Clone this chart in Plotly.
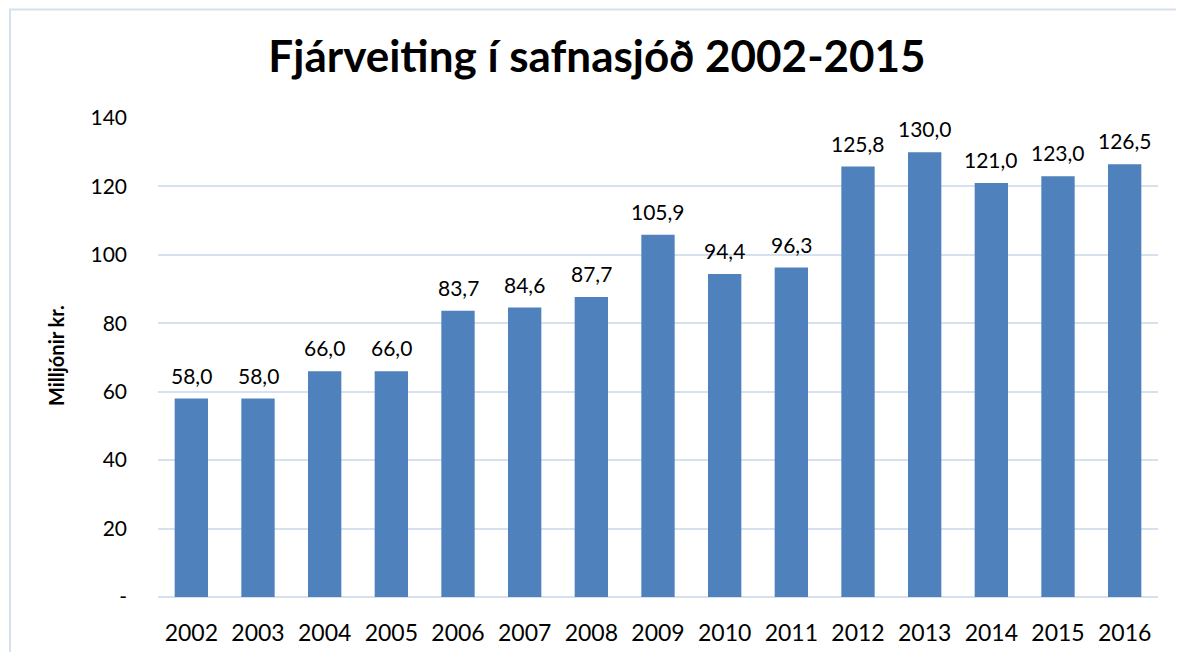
import plotly.graph_objects as go

years = ["2002", "2003", "2004", "2005", "2006", "2007", "2008", "2009",
         "2010", "2011", "2012", "2013", "2014", "2015", "2016"]
values = [58.0, 58.0, 66.0, 66.0, 83.7, 84.6, 87.7, 105.9,
          94.4, 96.3, 125.8, 130.0, 121.0, 123.0, 126.5]
labels = [f"{v:.1f}".replace(".", ",") for v in values]
y_ticks = [0, 20, 40, 60, 80, 100, 120, 140]
y_ticktext = ["-", "20", "40", "60", "80", "100", "120", "140"]

FONT = "Lato, Open Sans, sans-serif"

fig = go.Figure(go.Bar(
    x=years, y=values,
    marker=dict(color="#4f81bd", line=dict(width=0)),
))

# page body has an 8px margin; the figure starts at (8, 8) in the screenshot
OFF = 8
W, H = 1184 - 2 * OFF, 660 - 2 * OFF
L, R, T, B = 158 - OFF, 1184 - OFF - 1158, 118 - OFF, 660 - OFF - 597
pw, ph = W - L - R, H - T - B

def px(x):
    return (x - OFF - L) / pw

def py(y):
    return (H - B - (y - OFF)) / ph

# on a category axis, annotation x is the category index
annotations = [dict(x=i, y=v, text=t, xref="x", yref="y",
                    xanchor="center", yanchor="bottom", yshift=9,
                    showarrow=False,
                    font=dict(size=21, color="#000000", family=FONT))
               for i, (v, t) in enumerate(zip(values, labels))]
annotations.append(dict(text="<b>Milljónir kr.</b>", xref="paper", yref="paper",
                        x=px(56), y=py(356), xanchor="center", yanchor="middle",
                        textangle=-90, showarrow=False,
                        font=dict(size=20, color="#000000", family=FONT)))

fig.update_layout(
    width=W, height=H,
    margin=dict(l=L, r=R, t=T, b=B, autoexpand=False),
    paper_bgcolor="white", plot_bgcolor="white",
    bargap=0.5,
    showlegend=False,
    modebar=dict(bgcolor="rgba(0,0,0,0)", color="rgba(0,0,0,0)",
                 activecolor="rgba(0,0,0,0)"),
    title=dict(text="<b>Fjárveiting í safnasjóð 2002-2015</b>",
               x=(597 - OFF) / W, xanchor="center",
               y=1 - (57 - OFF) / H, yanchor="middle",
               font=dict(size=44, color="#000000", family=FONT)),
    xaxis=dict(type="category", range=[-0.5, len(years) - 0.5],
               showgrid=False, showline=False, ticks="",
               automargin=False, ticklabelstandoff=20,
               tickfont=dict(size=23, color="#000000", family=FONT)),
    yaxis=dict(range=[0, 140], tickvals=y_ticks, ticktext=y_ticktext,
               automargin=False,
               showgrid=True, gridcolor="#d6e1f0", gridwidth=1.5,
               zeroline=True, zerolinecolor="#d6e1f0", zerolinewidth=1.5,
               showline=False, ticks="", ticklabelstandoff=30,
               tickfont=dict(size=21, color="#000000", family=FONT)),
    annotations=annotations,
    shapes=[dict(type="rect", xref="paper", yref="paper",
                 x0=px(10), x1=px(1220), y0=py(700), y1=py(9.5),
                 line=dict(color="#d6e1f0", width=2), layer="below")],
)

fig.write_html("out.html")
